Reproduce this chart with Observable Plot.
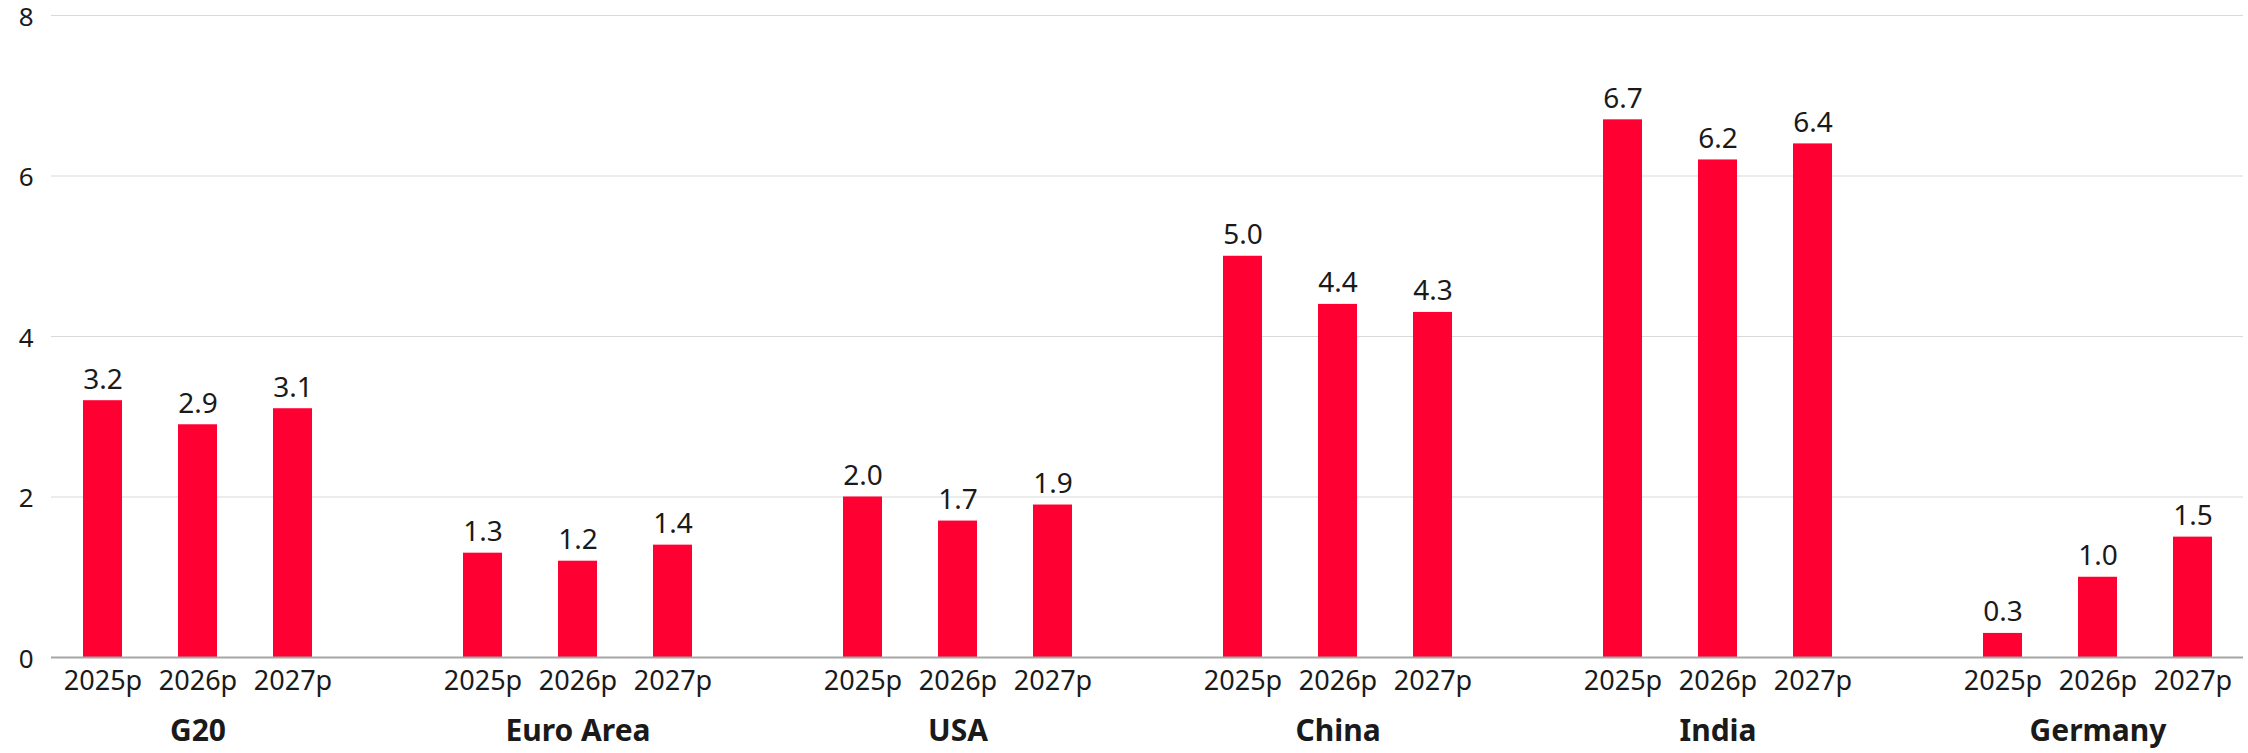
<!DOCTYPE html>
<html>
<head>
<meta charset="utf-8">
<script src="https://cdn.jsdelivr.net/npm/d3@7"></script>
<script src="https://cdn.jsdelivr.net/npm/@observablehq/plot@0.6"></script>
<style>
  html, body { margin: 0; padding: 0; background: #fff; }
</style>
</head>
<body>
<div id="chart"></div>
<script>
const groups = ["G20", "Euro Area", "USA", "China", "India", "Germany"];
const years = ["2025p", "2026p", "2027p"];
const g20 = [3.2, 2.9, 3.1];
const euroArea = [1.3, 1.2, 1.4];
const usa = [2.0, 1.7, 1.9];
const china = [5.0, 4.4, 4.3];
const india = [6.7, 6.2, 6.4];
const germany = [0.3, 1.0, 1.5];
const yTicks = [0, 2, 4, 6, 8];

const series = [g20, euroArea, usa, china, india, germany];

const rows = [];
const domain = [];
groups.forEach((g, gi) => {
  years.forEach((yr, yi) => {
    const key = g + "|" + yr;
    domain.push(key);
    rows.push({key, group: g, year: yr, value: series[gi][yi]});
  });
  if (gi < groups.length - 1) domain.push("gap" + gi);
});
const middleKeys = groups.map(g => g + "|" + years[1]);

const font = "'Noto Sans', sans-serif";
const textColor = "#1a1a1a";

const chart = Plot.plot({
  width: 2248,
  height: 753,
  marginTop: 15,
  marginBottom: 96,
  marginLeft: 51,
  marginRight: 5,
  style: {fontFamily: font, fontSize: "27px", color: textColor, background: "#fff", overflow: "visible"},
  x: {type: "band", domain, paddingInner: 0.59, paddingOuter: 0.295, axis: null},
  y: {domain: [0, 8], axis: null},
  marks: [
    Plot.gridY(yTicks.filter(d => d > 0), {stroke: "#d9d9d9", strokeOpacity: 1, strokeWidth: 1.2}),
    Plot.barY(rows, {x: "key", y: "value", fill: "#ff0033"}),
    Plot.ruleY([0], {stroke: "#a6a6a6", strokeWidth: 2}),
    Plot.text(rows, {x: "key", y: "value", text: d => d.value.toFixed(1), lineAnchor: "bottom", dy: -12, fill: textColor, fontSize: 28}),
    Plot.axisY({ticks: yTicks, label: null, tickSize: 0, tickPadding: 18, fontSize: 26, dy: 2, fill: textColor, textAnchor: "end"}),
    Plot.axisX({ticks: rows.map(d => d.key), label: null, tickFormat: k => k.split("|")[1], tickSize: 0, tickPadding: 13, fontSize: 27, fill: textColor}),
    Plot.axisX({ticks: middleKeys, label: null, tickFormat: k => k.split("|")[0], tickSize: 0, tickPadding: 62, fontSize: 30, fontWeight: "bold", fill: textColor})
  ]
});
document.getElementById("chart").appendChild(chart);
</script>
</body>
</html>
